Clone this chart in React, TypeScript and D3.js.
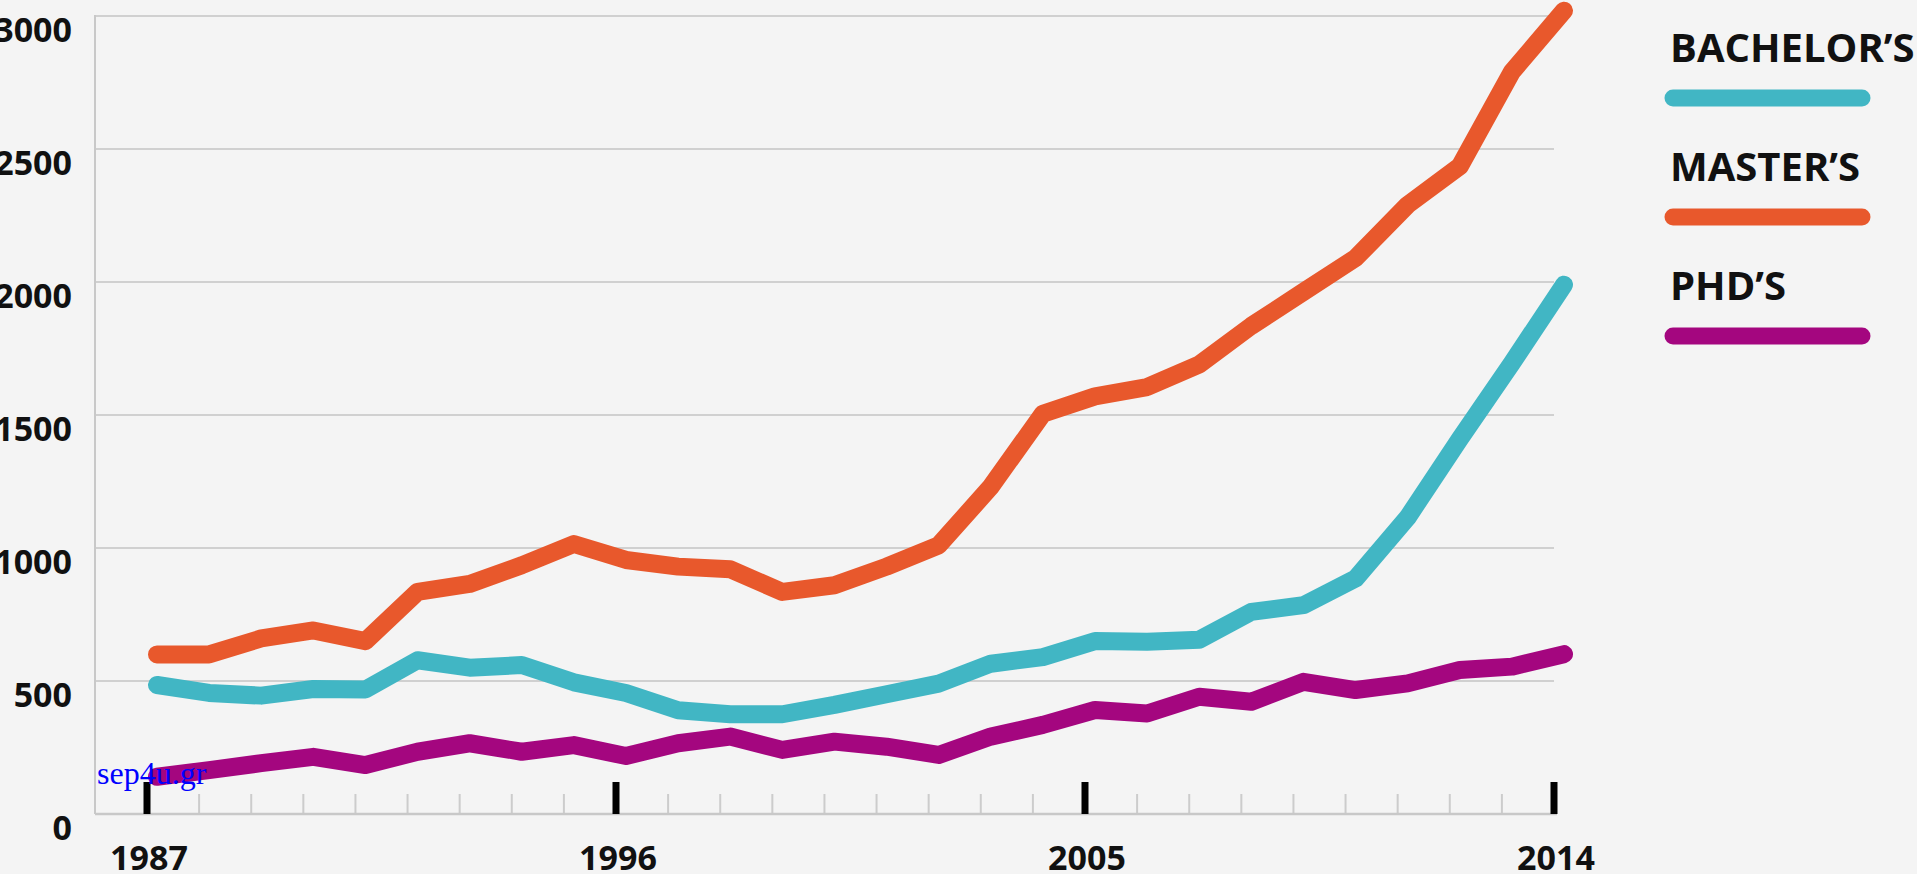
import React from "react";
import * as d3 from "d3";

const years = [
  1987, 1988, 1989, 1990, 1991, 1992, 1993, 1994, 1995, 1996, 1997, 1998, 1999, 2000,
  2001, 2002, 2003, 2004, 2005, 2006, 2007, 2008, 2009, 2010, 2011, 2012, 2013, 2014,
];
const bachelors = [
  485, 455, 445, 470, 468, 578, 550, 560, 495, 455, 390, 375, 375, 410,
  450, 490, 565, 590, 650, 648, 655, 760, 785, 885, 1115, 1410, 1695, 1990,
];
const masters = [
  600, 600, 660, 690, 650, 835, 865, 935, 1015, 955, 930, 920, 835, 860,
  930, 1010, 1230, 1505, 1570, 1605, 1690, 1835, 1963, 2090, 2290, 2435, 2790, 3020,
];
const phds = [
  140, 165, 191, 215, 184, 234, 266, 234, 259, 218, 266, 291, 241, 272,
  253, 222, 291, 335, 391, 378, 441, 422, 497, 466, 491, 541, 554, 601,
];
const yTicks = [0, 500, 1000, 1500, 2000, 2500, 3000];
const labelYears = [1987, 1996, 2005, 2014];
const seriesNames = ["BACHELOR\u2019S", "MASTER\u2019S", "PHD\u2019S"];
const colors = ["#41b6c4", "#e8582c", "#a4067f"];

const W = 1917;
const H = 874;
const font = "'Open Sans', sans-serif";

export default function App() {
  const x = d3.scaleLinear().domain([1987, 2014]).range([147, 1554]);
  // the lines sit a little right of the ticks in the original
  const xl = d3.scaleLinear().domain([1987, 2014]).range([157, 1564]);
  const y = d3.scaleLinear().domain([0, 3000]).range([814, 16]);

  const line = d3
    .line<number>()
    .x((d, i) => xl(years[i]))
    .y((d) => y(d));

  const series = [bachelors, masters, phds];

  return (
    <svg
      width={W}
      height={H}
      style={{ position: "absolute", left: 0, top: 0, display: "block" }}
    >
      <rect width={W} height={H} fill="#f4f4f4" />

      {/* gridlines */}
      {yTicks.slice(1).map((t) => (
        <line key={t} x1={95} x2={x(2014)} y1={y(t)} y2={y(t)} stroke="#d0d0d0" strokeWidth={2} />
      ))}
      <line x1={95} x2={95} y1={y(3000) - 1} y2={y(0)} stroke="#c8c8c8" strokeWidth={2} />

      {/* minor ticks */}
      {years
        .filter((yr) => !labelYears.includes(yr))
        .map((yr) => (
          <line key={yr} x1={x(yr)} x2={x(yr)} y1={y(0) - 20} y2={y(0)} stroke="#cccccc" strokeWidth={2} />
        ))}
      <line x1={95} x2={x(2014) + 3} y1={y(0)} y2={y(0)} stroke="#c8c8c8" strokeWidth={2.5} />
      {labelYears.map((yr) => (
        <line key={yr} x1={x(yr)} x2={x(yr)} y1={y(0) - 32} y2={y(0)} stroke="#000" strokeWidth={7} />
      ))}

      {/* y labels */}
      {yTicks.map((t) => (
        <text
          key={t}
          x={72}
          y={y(t) + 26}
          textAnchor="end"
          fontFamily={font}
          fontWeight={700}
          fontSize={34}
          fill="#111"
        >
          {t}
        </text>
      ))}

      {/* x labels */}
      {labelYears.map((yr) => (
        <text
          key={yr}
          x={x(yr) + 2}
          y={870}
          textAnchor="middle"
          fontFamily={font}
          fontWeight={700}
          fontSize={34}
          fill="#111"
        >
          {yr}
        </text>
      ))}

      {/* series */}
      {series.map((s, i) => (
        <path
          key={i}
          d={line(s) || ""}
          fill="none"
          stroke={colors[i]}
          strokeWidth={18}
          strokeLinecap="round"
          strokeLinejoin="round"
        />
      ))}

      {/* legend */}
      {seriesNames.map((name, i) => (
        <g key={name} transform={`translate(1670, ${62 + i * 119})`}>
          <text x={0} y={0} fontFamily={font} fontWeight={700} fontSize={40} fill="#111">
            {name}
          </text>
          <line x1={3} x2={192} y1={36} y2={36} stroke={colors[i]} strokeWidth={17} strokeLinecap="round" />
        </g>
      ))}

      <text x={97} y={784} fontFamily="'Liberation Serif', serif" fontSize={32} fill="#0000ff">
        sep4u.gr
      </text>
    </svg>
  );
}
